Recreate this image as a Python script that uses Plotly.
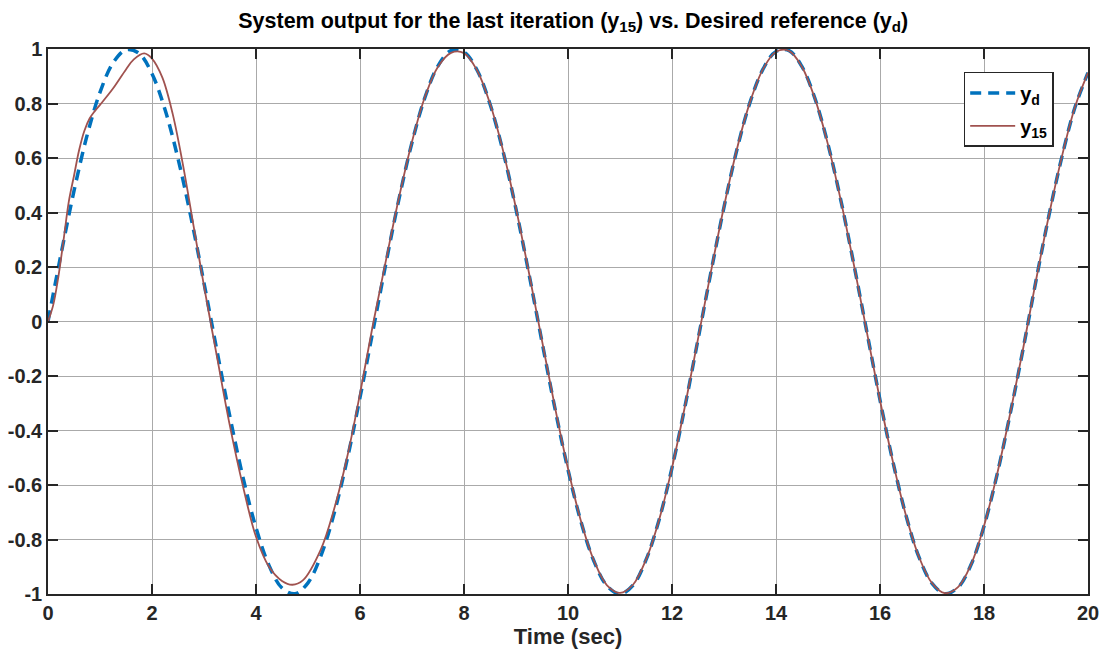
import plotly.graph_objects as go

# Desired reference y_d
t_d = [0, 0.25, 0.5, 0.75, 1.0, 1.25, 1.5, 1.75, 2.0, 2.25, 2.5, 2.75, 3.0, 3.25, 3.5, 3.75,
       4.0, 4.25, 4.5, 4.75, 5.0, 5.25, 5.5, 5.75, 6.0, 6.25, 6.5, 6.75, 7.0, 7.25, 7.5, 7.75,
       8.0, 8.25, 8.5, 8.75, 9.0, 9.25, 9.5, 9.75, 10.0, 10.25, 10.5, 10.75, 11.0, 11.25, 11.5,
       11.75, 12.0, 12.25, 12.5, 12.75, 13.0, 13.25, 13.5, 13.75, 14.0, 14.25, 14.5, 14.75,
       15.0, 15.25, 15.5, 15.75, 16.0, 16.25, 16.5, 16.75, 17.0, 17.25, 17.5, 17.75, 18.0,
       18.25, 18.5, 18.75, 19.0, 19.25, 19.5, 19.75, 20.0]
y_d = [0.0, 0.247, 0.479, 0.682, 0.841, 0.949, 0.997, 0.984, 0.909, 0.778, 0.598, 0.382, 0.141,
       -0.108, -0.351, -0.572, -0.757, -0.895, -0.978, -0.999, -0.959, -0.859, -0.706, -0.509,
       -0.279, -0.033, 0.215, 0.450, 0.657, 0.823, 0.938, 0.994, 0.989, 0.923, 0.798, 0.625,
       0.412, 0.174, -0.075, -0.320, -0.544, -0.735, -0.880, -0.970, -1.000, -0.968, -0.875,
       -0.729, -0.537, -0.311, -0.066, 0.182, 0.420, 0.632, 0.804, 0.926, 0.991, 0.994, 0.935,
       0.818, 0.650, 0.442, 0.207, -0.041, -0.288, -0.516, -0.712, -0.865, -0.961, -0.999,
       -0.976, -0.893, -0.751, -0.563, -0.342, -0.103, 0.150, 0.390, 0.606, 0.786, 0.913]

# System output at the last iteration y_15
t_15 = [0, 0.1, 0.2, 0.3, 0.4, 0.5, 0.6, 0.7, 0.8, 0.9, 1.0, 1.25, 1.5, 1.65, 1.85, 2.0, 2.2,
        2.4, 2.6, 2.8, 3.0, 3.25, 3.5, 3.75, 4.0, 4.25, 4.5, 4.7, 4.9, 5.25, 5.5, 5.75, 6.0, 6.25,
        6.5, 6.75, 7.0, 7.25, 7.5, 7.75, 8.0, 8.25, 8.5, 8.75, 9.0, 9.25, 9.5, 9.75, 10.0,
        10.25, 10.5, 10.75, 11.0, 11.25, 11.5, 11.75, 12.0, 12.25, 12.5, 12.75, 13.0, 13.25,
        13.5, 13.75, 14.0, 14.25, 14.5, 14.75, 15.0, 15.25, 15.5, 15.75, 16.0, 16.25, 16.5,
        16.75, 17.0, 17.25, 17.5, 17.75, 18.0, 18.25, 18.5, 18.75, 19.0, 19.25, 19.5, 19.75, 20.0]
y_15 = [0.0, 0.06, 0.165, 0.30, 0.44, 0.535, 0.63, 0.70, 0.745, 0.772, 0.795, 0.855, 0.925,
        0.962, 0.984, 0.965, 0.895, 0.76, 0.57, 0.35, 0.13, -0.13, -0.385, -0.605, -0.79, -0.90,
        -0.952, -0.966, -0.950, -0.835, -0.69, -0.50, -0.265, -0.01, 0.225, 0.455, 0.66,
        0.825, 0.935, 0.986, 0.985, 0.922, 0.800, 0.628, 0.415, 0.178, -0.070, -0.315, -0.540,
        -0.733, -0.878, -0.968, -0.996, -0.966, -0.874, -0.729, -0.537, -0.310, -0.064, 0.184,
        0.422, 0.634, 0.805, 0.926, 0.990, 0.993, 0.934, 0.817, 0.649, 0.441, 0.206, -0.042,
        -0.289, -0.516, -0.712, -0.864, -0.960, -0.997, -0.975, -0.892, -0.750, -0.562,
        -0.341, -0.102, 0.151, 0.391, 0.607, 0.787, 0.913]

x_ticks = [0, 2, 4, 6, 8, 10, 12, 14, 16, 18, 20]
y_ticks = [-1, -0.8, -0.6, -0.4, -0.2, 0, 0.2, 0.4, 0.6, 0.8, 1]
y_tick_text = ["-1", "-0.8", "-0.6", "-0.4", "-0.2", "0", "0.2", "0.4", "0.6", "0.8", "1"]

FONT = "Liberation Sans, Arial, Helvetica, sans-serif"
TXT = "#262626"

fig = go.Figure()
fig.add_trace(go.Scatter(
    x=t_d, y=y_d, mode="lines", name="y<sub>d</sub>", legendgroup="a",
    line=dict(color="#0072BD", width=3.5, dash="11px,7px", shape="spline", smoothing=1.0),
))
fig.add_trace(go.Scatter(
    x=t_15, y=y_15, mode="lines", name="y<sub>15</sub>", legendgroup="b",
    line=dict(color="#A0524F", width=1.8, shape="spline", smoothing=1.0),
))

axis_common = dict(
    showline=True, linecolor=TXT, linewidth=1.5, mirror="ticks",
    ticks="inside", ticklen=10, tickwidth=1.5, tickcolor=TXT,
    showgrid=True, gridcolor="#aaaaaa", gridwidth=1, zeroline=False,
    automargin=False,
    tickfont=dict(family=FONT, size=20, color=TXT, weight="bold"),
)

fig.update_layout(
    width=1103, height=655,
    margin=dict(l=48, r=15, t=49, b=61),
    paper_bgcolor="white", plot_bgcolor="white",
    font=dict(family=FONT, color=TXT, weight="bold"),
    title=dict(
        text="System output for the last iteration (y<sub>15</sub>) vs. Desired reference (y<sub>d</sub>)",
        font=dict(family=FONT, size=21.5, color="#000000", weight="bold"),
        x=0.505, xref="paper", xanchor="center", y=0.9695, yanchor="middle",
    ),
    xaxis=dict(axis_common, range=[0, 20], tickvals=x_ticks, ticklabelstandoff=0,
               title=dict(text="Time (sec)", font=dict(family=FONT, size=22, color=TXT, weight="bold"), standoff=4)),
    yaxis=dict(axis_common, range=[-1, 1], tickvals=y_ticks, ticktext=y_tick_text, ticklabelstandoff=0),
    legend=dict(
        x=0.967, y=0.958, xanchor="right", yanchor="top",
        bgcolor="white", bordercolor=TXT, borderwidth=1.5,
        font=dict(family=FONT, size=20, color="#000000", weight="bold"),
        tracegroupgap=4, itemwidth=45,
    ),
    showlegend=True,
)

# Remove the default page margin so the figure fills the window exactly.
fig.write_html(
    "out.html",
    config={"displayModeBar": False},
    post_script="document.body.style.margin='0';document.body.style.overflow='hidden';",
)
